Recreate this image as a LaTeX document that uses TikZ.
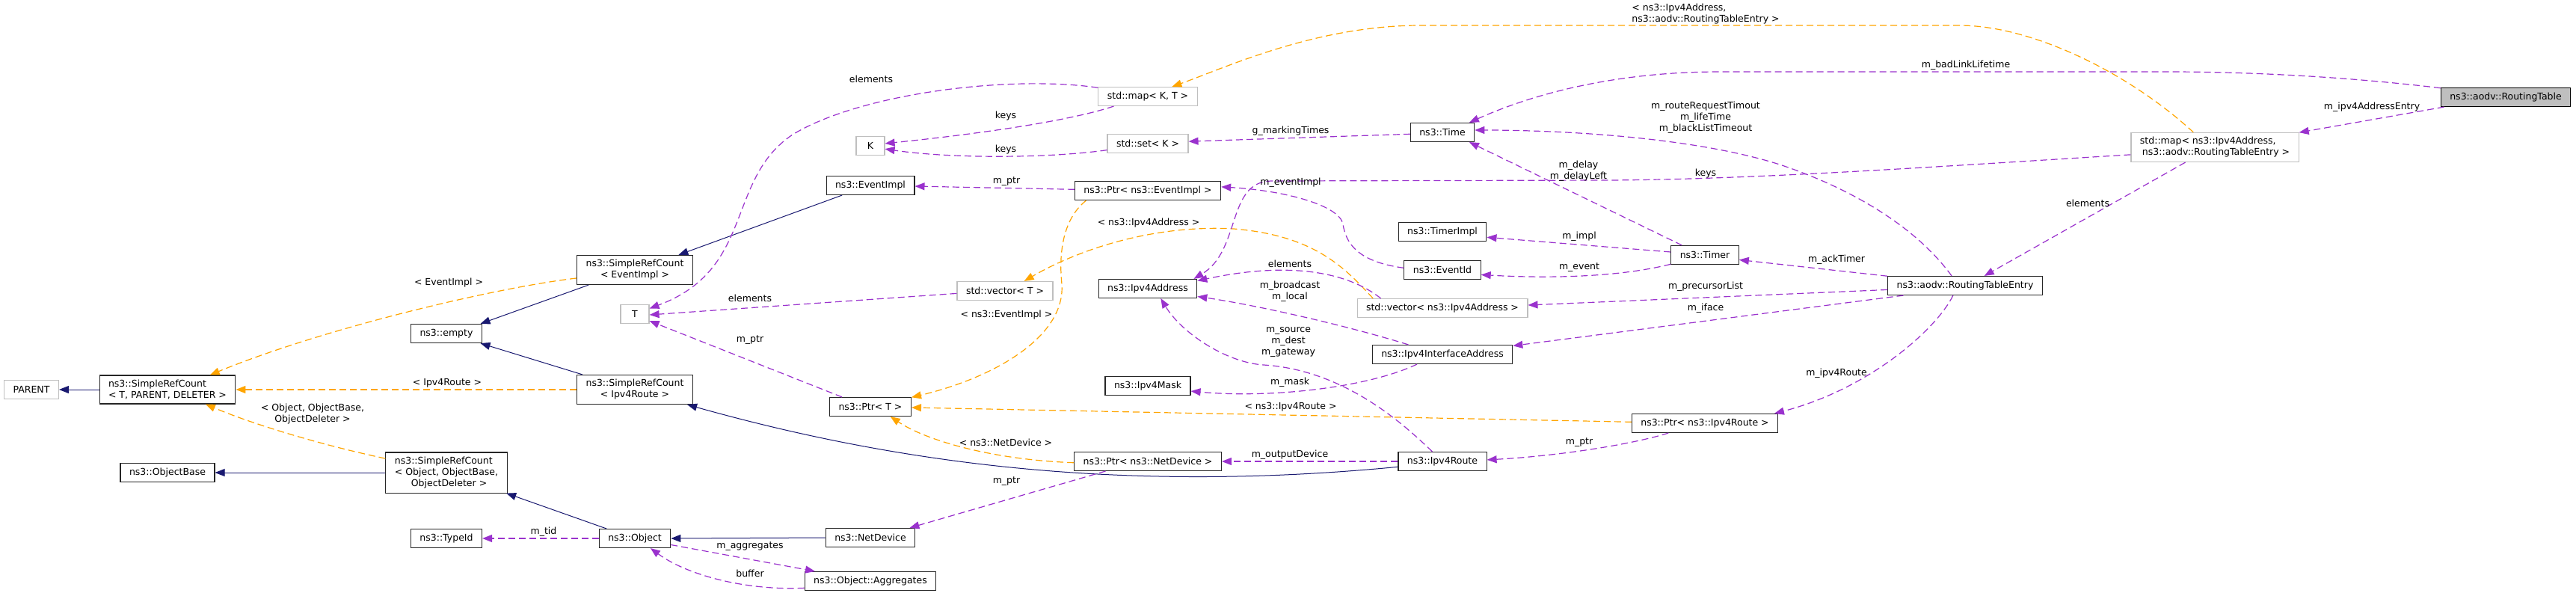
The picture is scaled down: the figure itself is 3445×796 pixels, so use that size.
\documentclass[tikz,border=0pt]{standalone}
\usepackage{fontspec}
\setmainfont{DejaVu Sans}
\usetikzlibrary{arrows.meta}

\definecolor{grey25}{HTML}{262626}
\definecolor{grey75}{HTML}{BFBFBF}
\definecolor{midnight}{HTML}{191970}
\definecolor{orchid}{HTML}{9A32CD}
\definecolor{dxorange}{HTML}{FFA500}

\tikzset{
	every node/.style = {font = \fontsize{12.5}{15}\selectfont},
	cls/.style = {draw = grey25, fill = white, line width = 1.1pt, minimum height = 25pt, minimum width = 38pt, inner xsep = 12pt, inner ysep = 6pt},
	ext/.style = {cls, draw = grey75},
	root/.style = {cls, draw = black, fill = grey75},
	inh/.style = {draw = midnight, line width = 1pt, -{Triangle[length = 13pt, width = 10pt]}},
	use/.style = {draw = orchid, line width = 1.2pt, dash pattern = on 9pt off 5pt, -{Triangle[length = 13pt, width = 10pt, fill = orchid]}},
	tpl/.style = {draw = dxorange, line width = 1.2pt, dash pattern = on 9pt off 5pt, -{Triangle[length = 13pt, width = 10pt, fill = dxorange]}},
	lbl/.style = {inner sep = 0pt, align = center}
}

\begin{document}
\begin{tikzpicture}[x = 1pt, y = -1pt]
	\useasboundingbox (0, 0) rectangle (3445, 796);

	\node[ext] (parent) at (42, 521) {PARENT};
	\node[cls, align = left] (srcTPD) at (224, 521) {ns3::SimpleRefCount\\< T, PARENT, DELETER >};
	\node[cls] (objBase) at (224, 632) {ns3::ObjectBase};
	\node[cls, align = left] (srcObj) at (597, 632) {ns3::SimpleRefCount\\< Object, ObjectBase,\\\hspace*{22pt}ObjectDeleter >};
	\node[cls] (empty) at (597, 446) {ns3::empty};
	\node[cls, align = center] (srcEI) at (849, 361) {ns3::SimpleRefCount\\< EventImpl >};
	\node[cls, align = center] (srcIR) at (849, 521) {ns3::SimpleRefCount\\< Ipv4Route >};
	\node[ext] (tT) at (849, 420) {T};
	\node[cls] (typeId) at (597, 720) {ns3::TypeId};
	\node[cls] (object) at (849, 720) {ns3::Object};
	\node[cls] (aggr) at (1164, 777) {ns3::Object::Aggregates};
	\node[cls] (netDev) at (1164, 719) {ns3::NetDevice};
	\node[cls] (ptrT) at (1164, 544) {ns3::Ptr< T >};
	\node[cls] (ptrND) at (1535, 617) {ns3::Ptr< ns3::NetDevice >};
	\node[cls] (mask) at (1535, 516) {ns3::Ipv4Mask};
	\node[cls] (eventImpl) at (1164, 248) {ns3::EventImpl};
	\node[ext] (kK) at (1164, 195) {K};
	\node[ext] (mapKT) at (1535, 129) {std::map< K, T >};
	\node[ext] (setK) at (1535, 192) {std::set< K >};
	\node[cls] (ptrEI) at (1535, 255) {ns3::Ptr< ns3::EventImpl >};
	\node[ext] (vecT) at (1344, 389) {std::vector< T >};
	\node[cls] (ipAddr) at (1535, 386) {ns3::Ipv4Address};
	\node[cls] (time) at (1929, 177) {ns3::Time};
	\node[cls] (timerImpl) at (1929, 310) {ns3::TimerImpl};
	\node[cls] (eventId) at (1929, 361) {ns3::EventId};
	\node[ext] (vecIp) at (1929, 412) {std::vector< ns3::Ipv4Address >};
	\node[cls] (ipIface) at (1929, 474) {ns3::Ipv4InterfaceAddress};
	\node[cls] (ipRoute) at (1929, 617) {ns3::Ipv4Route};
	\node[cls] (timer) at (2280, 341) {ns3::Timer};
	\node[cls] (rte) at (2628, 382) {ns3::aodv::RoutingTableEntry};
	\node[cls] (ptrIR) at (2280, 566) {ns3::Ptr< ns3::Ipv4Route >};
	\node[ext, align = left] (mapIpRte) at (2962, 197) {std::map< ns3::Ipv4Address,\\\hspace*{3pt}ns3::aodv::RoutingTableEntry >};
	\node[root] (rtable) at (3351, 130) {ns3::aodv::RoutingTable};

	\draw[inh] (srcTPD.west) -- (parent.east);
	\draw[inh] (srcObj.west) -- (objBase.east);
	\draw[inh] (srcEI.198) -- (empty.16);
	\draw[inh] (srcIR.164) -- (empty.-16);
	\draw[inh] (eventImpl.199) -- (srcEI.19);
	\draw[inh] (ipRoute.187) .. controls (1500, 660) and (1200, 620) .. (srcIR.-16);
	\draw[inh] (object.161) -- (srcObj.-19);
	\draw[inh] (netDev.west) -- (object.east);

	\draw[tpl] (srcEI.188) .. controls (660, 385) and (430, 440) .. (srcTPD.19);
	\draw[tpl] (srcIR.west) -- (srcTPD.east);
	\draw[tpl] (srcObj.167) .. controls (430, 595) and (340, 568) .. (srcTPD.-21);
	\draw[tpl] (ptrEI.189) .. controls (1425, 290) and (1415, 330) .. (1420, 380) .. controls (1425, 450) and (1330, 505) .. (ptrT.13);
	\draw[tpl] (ptrND.181) .. controls (1330, 615) and (1240, 590) .. (ptrT.-26);
	\draw[tpl] (ptrIR.179) -- (ptrT.-1);
	\draw[tpl] (vecIp.172) .. controls (1800, 360) and (1760, 315) .. (1650, 306) .. controls (1540, 300) and (1440, 335) .. (vecT.27);
	\draw[tpl] (mapIpRte.145) .. controls (2850, 100) and (2720, 34) .. (2620, 34) -- (1900, 34) .. controls (1760, 34) and (1640, 90) .. (mapKT.22);

	\draw[use] (mapKT.170) .. controls (1350, 100) and (1150, 125) .. (1060, 180) .. controls (970, 240) and (1010, 360) .. (tT.21);
	\draw[use] (vecT.183) -- (tT.-3);
	\draw[use] (ptrT.161) -- (tT.-25);
	\draw[use] (mapKT.196) .. controls (1420, 165) and (1280, 182) .. (kK.9);
	\draw[use] (setK.189) .. controls (1400, 212) and (1270, 212) .. (kK.-12);
	\draw[use] (ptrEI.179) -- (eventImpl.-1);
	\draw[use] (time.183) -- (setK.3);
	\draw[use] (eventId.177) .. controls (1815, 350) and (1800, 325) .. (1796, 300) .. controls (1792, 275) and (1720, 255) .. (ptrEI.3);
	\draw[use] (mapIpRte.185) .. controls (2600, 222) and (2350, 240) .. (2150, 241) -- (1700, 242) .. controls (1640, 243) and (1660, 335) .. (ipAddr.12);
	\draw[use] (vecIp.171) .. controls (1800, 362) and (1720, 350) .. (ipAddr.9);
	\draw[use] (ipIface.164) .. controls (1800, 435) and (1680, 408) .. (ipAddr.-9);
	\draw[use] (ipRoute.136) .. controls (1880, 570) and (1800, 495) .. (1690, 488) .. controls (1640, 485) and (1580, 445) .. (ipAddr.-37);
	\draw[use] (ipIface.201) .. controls (1830, 518) and (1700, 533) .. (mask.-7);
	\draw[use] (ipRoute.west) -- (ptrND.east);
	\draw[use] (ptrND.193) -- (netDev.14);
	\draw[use] (object.west) -- (typeId.east);
	\draw[use] (object.-10) -- (aggr.170);
	\draw[use] (aggr.186) .. controls (1000, 790) and (920, 770) .. (object.-32);
	\draw[use] (timer.157) -- (time.-20);
	\draw[use] (timer.175) -- (timerImpl.-7);
	\draw[use] (timer.195) .. controls (2160, 372) and (2060, 372) .. (eventId.-7);
	\draw[use] (rte.173) -- (timer.-8);
	\draw[use] (rte.183) -- (vecIp.2);
	\draw[use] (rte.189) -- (ipIface.7);
	\draw[use] (rte.219) .. controls (2590, 440) and (2500, 520) .. (ptrIR.8);
	\draw[use] (ptrIR.195) .. controls (2180, 595) and (2080, 610) .. (ipRoute.2);
	\draw[use] (rte.144) .. controls (2560, 300) and (2470, 250) .. (2380, 220) .. controls (2270, 185) and (2100, 174) .. (time.4);
	\draw[use] (rtable.172) .. controls (3150, 104) and (3020, 96) .. (2900, 96) -- (2300, 96) .. controls (2150, 96) and (2040, 130) .. (time.20);
	\draw[use] (rtable.189) -- (mapIpRte.10);
	\draw[use] (mapIpRte.207) -- (rte.27);

	\node[lbl] (lEvImpl) at (600, 378) {< EventImpl >};
	\node[lbl] (lIpRoute) at (598, 512) {< Ipv4Route >};
	\node[lbl] (lObjTpl) at (418, 554) {< Object, ObjectBase,\\ObjectDeleter >};
	\node[lbl] (lNsEvImpl) at (1346, 421) {< ns3::EventImpl >};
	\node[lbl] (lNsNetDev) at (1345, 592) {< ns3::NetDevice >};
	\node[lbl] (lNsIpRoute) at (1726, 544) {< ns3::Ipv4Route >};
	\node[lbl] (lNsIpAddr) at (1536, 298) {< ns3::Ipv4Address >};
	\node[lbl, align = left] (lMapTpl) at (2281, 19) {< ns3::Ipv4Address,\\ns3::aodv::RoutingTableEntry >};
	\node[lbl] (lElemMap) at (1165, 106) {elements};
	\node[lbl] (lElemVec) at (1003, 399) {elements};
	\node[lbl] (lPtrT) at (1003, 455) {m\_ptr};
	\node[lbl] (lKeysMap) at (1345, 155) {keys};
	\node[lbl] (lKeysSet) at (1345, 200) {keys};
	\node[lbl] (lPtrEI) at (1346, 243) {m\_ptr};
	\node[lbl] (lMarking) at (1726, 175) {g\_markingTimes};
	\node[lbl] (lEventImpl) at (1726, 244) {m\_eventImpl};
	\node[lbl] (lKeysIp) at (2281, 232) {keys};
	\node[lbl] (lElemIp) at (1725, 353) {elements};
	\node[lbl] (lBcast) at (1725, 390) {m\_broadcast\\m\_local};
	\node[lbl] (lSrc) at (1723, 457) {m\_source\\m\_dest\\m\_gateway};
	\node[lbl] (lMask) at (1725, 511) {m\_mask};
	\node[lbl] (lOutDev) at (1725, 608) {m\_outputDevice};
	\node[lbl] (lPtrND) at (1346, 644) {m\_ptr};
	\node[lbl] (lTid) at (727, 711) {m\_tid};
	\node[lbl] (lAggr) at (1003, 731) {m\_aggregates};
	\node[lbl] (lBuffer) at (1003, 767) {buffer};
	\node[lbl] (lDelay) at (2111, 229) {m\_delay\\m\_delayLeft};
	\node[lbl] (lImpl) at (2112, 316) {m\_impl};
	\node[lbl] (lEvent) at (2112, 358) {m\_event};
	\node[lbl] (lAck) at (2456, 347) {m\_ackTimer};
	\node[lbl] (lPrec) at (2281, 383) {m\_precursorList};
	\node[lbl] (lIface) at (2281, 412) {m\_iface};
	\node[lbl] (lIpv4Route) at (2456, 499) {m\_ipv4Route};
	\node[lbl] (lPtrIR) at (2112, 592) {m\_ptr};
	\node[lbl] (lTimes) at (2281, 157) {m\_routeRequestTimout\\m\_lifeTime\\m\_blackListTimeout};
	\node[lbl] (lBadLink) at (2629, 87) {m\_badLinkLifetime};
	\node[lbl] (lAddrEntry) at (3172, 143) {m\_ipv4AddressEntry};
	\node[lbl] (lElemRte) at (2792, 272) {elements};
\end{tikzpicture}
\end{document}
